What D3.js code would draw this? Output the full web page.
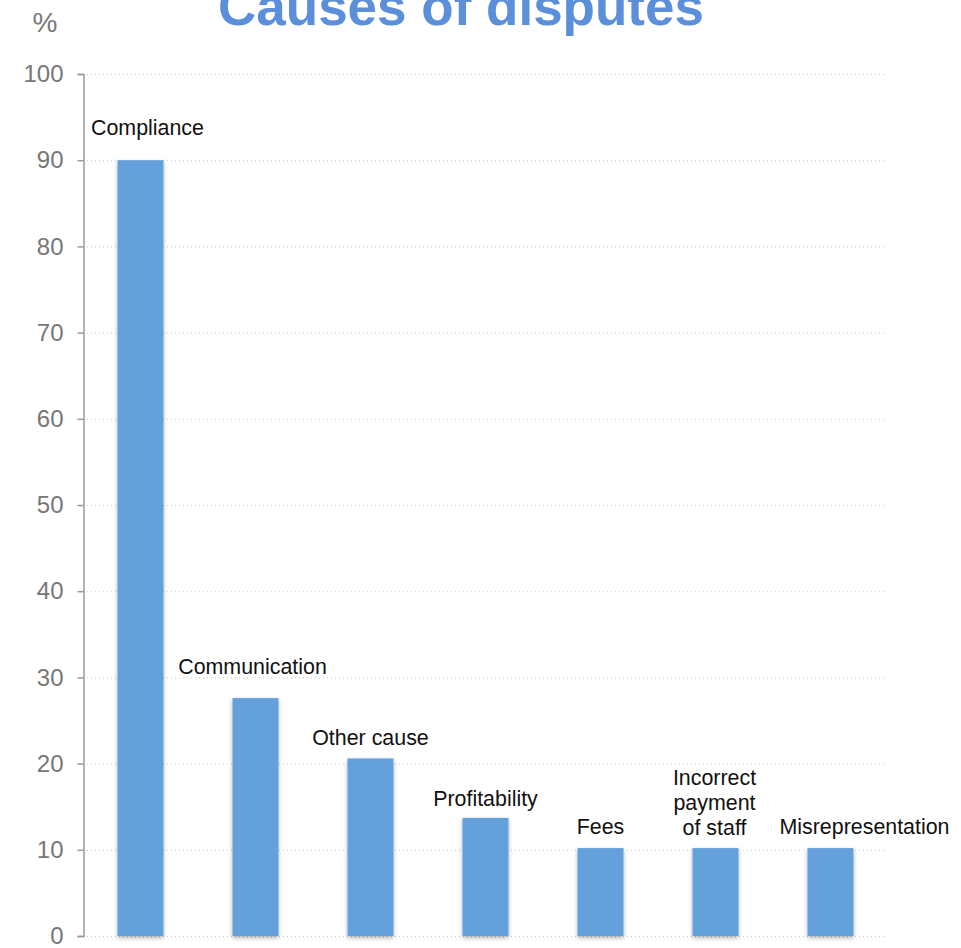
<!DOCTYPE html>
<html>
<head>
<meta charset="utf-8">
<script src="https://cdn.jsdelivr.net/npm/d3@7/dist/d3.min.js"></script>
<style>
  html, body { margin: 0; padding: 0; background: #fff; }
  svg { display: block; }
  text { font-family: "Liberation Sans", Arial, Helvetica, sans-serif; }
</style>
</head>
<body>
<svg id="chart" width="961" height="948"></svg>
<script>
// Causes of disputes, share of cases (%)
const categories = ["Compliance", "Communication", "Other cause", "Profitability", "Fees", "Incorrect payment of staff", "Misrepresentation"];
const labelLines = [["Compliance"], ["Communication"], ["Other cause"], ["Profitability"], ["Fees"], ["Incorrect", "payment", "of staff"], ["Misrepresentation"]];
const values = [90, 27.6, 20.6, 13.7, 10.2, 10.2, 10.2];
const yTicks = [0, 10, 20, 30, 40, 50, 60, 70, 80, 90, 100];

const svg = d3.select("#chart");
const plotLeft = 83, plotRight = 888, plotTop = 74, plotBottom = 936;

const x = d3.scaleBand().domain(categories).range([plotLeft, plotRight]).paddingInner(0.6).paddingOuter(0.3);
const y = d3.scaleLinear().domain([0, 100]).range([plotBottom, plotTop]);

// drop shadow for bars
const defs = svg.append("defs");
const f = defs.append("filter").attr("id", "shadow").attr("x", "-30%").attr("y", "-10%").attr("width", "160%").attr("height", "130%");
f.append("feDropShadow").attr("dx", 0).attr("dy", 2).attr("stdDeviation", 2).attr("flood-color", "#000").attr("flood-opacity", 0.3);

// dotted gridlines
svg.append("g").selectAll("line").data(yTicks).join("line")
  .attr("x1", plotLeft).attr("x2", plotRight - 3)
  .attr("y1", d => y(d) + 0.5).attr("y2", d => y(d) + 0.5)
  .attr("stroke", "#c8c8c8").attr("stroke-width", 1).attr("stroke-dasharray", "1,3");

// y axis
const yAxis = d3.axisLeft(y).tickValues(yTicks).tickSize(6).tickPadding(14);
const ga = svg.append("g").attr("transform", `translate(${plotLeft + 0.5},0)`).call(yAxis);
ga.select(".domain").attr("stroke", "#9a9a9a").attr("stroke-width", 1.5);
ga.selectAll(".tick line").attr("stroke", "#9a9a9a").attr("stroke-width", 1.5);
ga.selectAll(".tick text").attr("fill", "#777").attr("font-size", 24)
  .attr("font-family", "'Liberation Sans', Arial, sans-serif");

// bars
svg.append("g").selectAll("rect").data(categories).join("rect")
  .attr("x", d => x(d))
  .attr("y", (d, i) => y(values[i]))
  .attr("width", x.bandwidth())
  .attr("height", (d, i) => y(0) - y(values[i]))
  .attr("fill", "#64a0dc")
  .attr("filter", "url(#shadow)");

// category labels above bars (gap above bar and horizontal nudge per label)
const gapAbove = [25, 24, 13, 12, 14, 13, 14];
const nudgeX = [7, -3, 0, 0, 0, -1, 34];
const lab = svg.append("g").selectAll("text").data(categories).join("text")
  .attr("text-anchor", "middle")
  .attr("font-size", 21.4)
  .attr("fill", "#111");
lab.each(function(d, i) {
  const lines = labelLines[i];
  const cx = x(d) + x.bandwidth() / 2 + nudgeX[i];
  const base = y(values[i]) - gapAbove[i];
  const t = d3.select(this);
  lines.forEach((ln, k) => {
    t.append("tspan").attr("x", cx).attr("y", base - (lines.length - 1 - k) * 25).text(ln);
  });
});

// unit label
svg.append("text").attr("x", 45).attr("y", 32).attr("text-anchor", "middle")
  .attr("font-size", 28).attr("fill", "#777").text("%");

// title
svg.append("text").attr("x", 461).attr("y", 25).attr("text-anchor", "middle")
  .attr("font-size", 53).attr("font-weight", "bold").attr("fill", "#5b8fd9")
  .text("Causes of disputes");
</script>
</body>
</html>
